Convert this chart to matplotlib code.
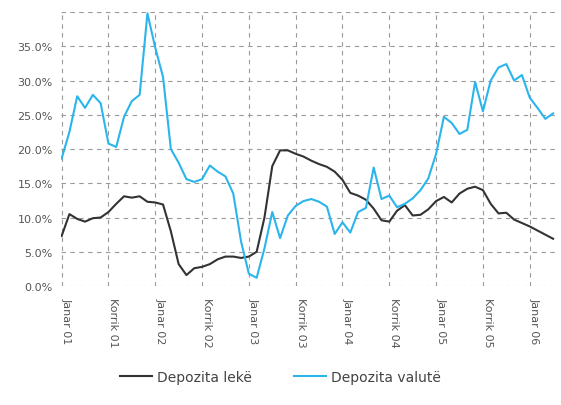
import matplotlib
matplotlib.use("Agg")
import matplotlib.pyplot as plt
from matplotlib.ticker import FuncFormatter

tick_labels = ["Janar 01", "Korrik 01", "Janar 02", "Korrik 02", "Janar 03", "Korrik 03",
               "Janar 04", "Korrik 04", "Janar 05", "Korrik 05", "Janar 06"]

depozita_leke = [7.3, 10.5, 9.8, 9.4, 9.9, 10.0, 10.8, 12.0, 13.1, 12.9, 13.1, 12.3,
                 12.2, 11.9, 8.0, 3.2, 1.6, 2.6, 2.8, 3.2, 3.9, 4.3, 4.3, 4.1,
                 4.3, 5.0, 10.0, 17.5, 19.8, 19.8, 19.3, 18.9, 18.3, 17.8, 17.4, 16.7,
                 15.5, 13.6, 13.2, 12.6, 11.3, 9.6, 9.4, 11.0, 11.8, 10.3, 10.4, 11.2,
                 12.4, 13.0, 12.2, 13.5, 14.2, 14.5, 14.0, 12.0, 10.6, 10.7, 9.7, 9.2,
                 8.7, 8.1, 7.5, 6.9]

depozita_valute = [18.6, 22.5, 27.7, 26.0, 27.9, 26.7, 20.8, 20.3, 24.7, 27.0, 27.9, 39.8,
                   34.8, 30.5, 20.0, 18.0, 15.6, 15.2, 15.6, 17.6, 16.7, 16.0, 13.5, 6.5,
                   1.8, 1.2, 5.5, 10.8, 7.0, 10.3, 11.7, 12.4, 12.7, 12.3, 11.6, 7.6,
                   9.3, 7.8, 10.8, 11.4, 17.3, 12.7, 13.2, 11.5, 12.0, 12.8, 14.0, 15.7,
                   19.3, 24.7, 23.8, 22.2, 22.8, 29.8, 25.5, 30.0, 31.9, 32.4, 30.0, 30.8,
                   27.5, 26.0, 24.4, 25.2]

series_names = ["Depozita lekë", "Depozita valutë"]

fig = plt.figure(figsize=(5.61, 4.06), dpi=100)
ax = fig.add_axes([0.109, 0.293, 0.886, 0.675])

x = list(range(len(depozita_leke)))
ax.plot(x, depozita_leke, color="#333333", lw=1.5, label=series_names[0])
ax.plot(x, depozita_valute, color="#2bb5ec", lw=1.5, label=series_names[1])

ax.set_xlim(-0.06, 63.65)
ax.set_ylim(0, 40)
ax.set_yticks([0, 5, 10, 15, 20, 25, 30, 35, 40])
ax.yaxis.set_major_formatter(FuncFormatter(lambda v, p: "" if v >= 40 else f"{v:.1f}%"))
ax.set_xticks(list(range(0, 61, 6)))
ax.set_xticklabels(tick_labels, rotation=-90, ha="left", va="top", rotation_mode="default")

ax.grid(True, color="#999999", linestyle=(0, (4, 4)), linewidth=0.8)
for s in ax.spines.values():
    s.set_visible(False)
ax.tick_params(axis="both", length=0, colors="#555555", labelsize=8)
ax.tick_params(axis="y", pad=6)
ax.tick_params(axis="x", pad=8)

fig.legend(loc="center", bbox_to_anchor=(0.5, 0.069), ncol=2, frameon=False,
           fontsize=10, handlelength=2.3, handletextpad=0.4, columnspacing=3.0,
           labelcolor="#444444")

fig.savefig("out.png", dpi=100)
